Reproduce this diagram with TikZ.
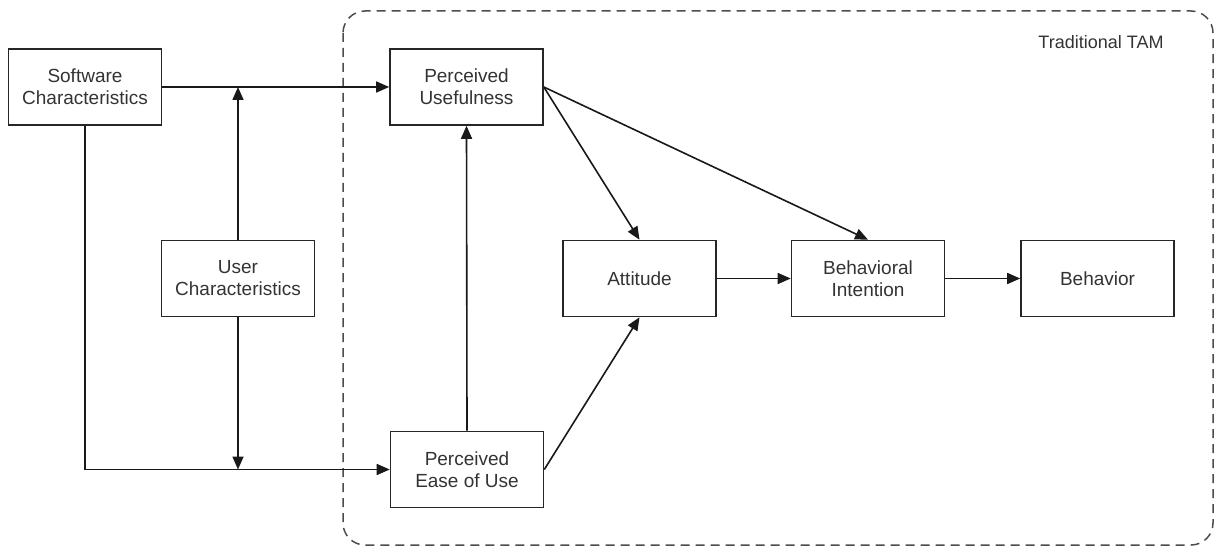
\documentclass[tikz,border=0pt]{standalone}
\usepackage{fontspec}
\setmainfont{Liberation Sans}
\usetikzlibrary{arrows.meta}
\begin{document}
\begin{tikzpicture}[x=1pt,y=-1pt,
  box/.style={draw=black!85, line width=1.6pt, minimum width=153pt, minimum height=76pt, inner sep=0pt, align=center, font=\fontsize{19}{22}\selectfont, text=black!80},
  arr/.style={line width=1.6pt, draw=black!90, -{Triangle[length=13pt,width=11pt]}}]
\useasboundingbox (0,0) rectangle (1229,548);
\draw[line width=1.5pt, draw=black!70, dash pattern=on 9pt off 6pt, rounded corners=22pt] (343,11) rectangle (1213,545);
\node[font=\fontsize{18}{22}\selectfont, text=black!80] (tam) at (1101,42) {Traditional TAM};
\node[box] (SW) at (85,87) {Software\\Characteristics};
\node[box] (PU) at (466.5,87) {Perceived\\Usefulness};
\node[box] (UC) at (238,278.5) {User\\Characteristics};
\node[box] (PE) at (467,469.5) {Perceived\\Ease of Use};
\node[box] (AT) at (639.5,278.5) {Attitude};
\node[box] (BI) at (868,278.5) {Behavioral\\Intention};
\node[box] (BH) at (1097.5,278.5) {Behavior};
\draw[arr] (SW.east) -- (PU.west);
\draw[arr] (UC.north) -- (UC.north |- SW.east);
\draw[arr] (UC.south) -- (UC.south |- PE.west);
\draw[arr] (SW.south) |- (PE.west);
\draw[arr] (PE.north) -- (PU.south);
\draw[arr] (PU.east) -- (AT.north);
\draw[arr] (PU.east) -- (BI.north);
\draw[arr] (PE.east) -- (AT.south);
\draw[arr] (AT.east) -- (BI.west);
\draw[arr] (BI.east) -- (BH.west);
\end{tikzpicture}
\end{document}
